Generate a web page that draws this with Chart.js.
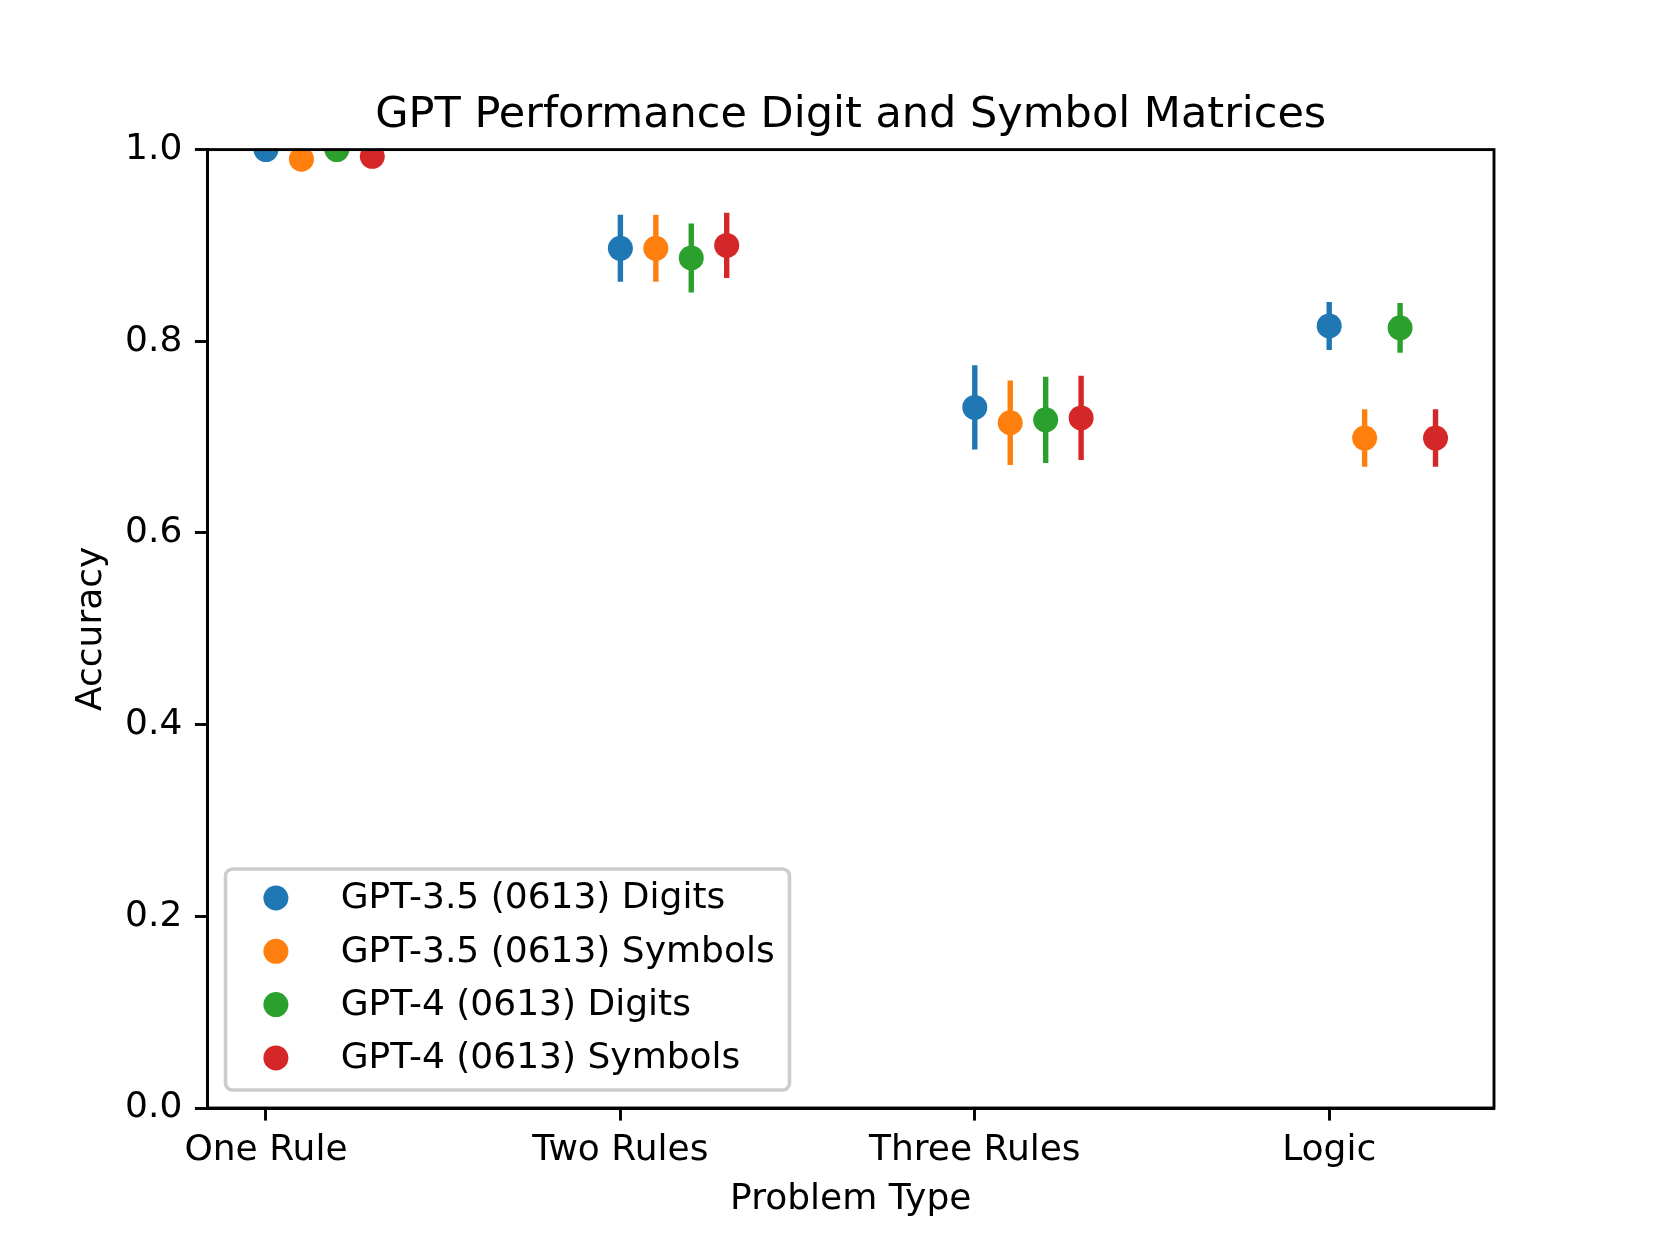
<!DOCTYPE html>
<html>
<head>
<meta charset="utf-8">
<script src="https://cdn.jsdelivr.net/npm/chart.js@4"></script>
<style>
  body { margin: 0; background: #fff; }
</style>
</head>
<body>
<canvas id="grafico" width="1660" height="1245"></canvas>
<script>
// datos
var categorias = ['One Rule', 'Two Rules', 'Three Rules', 'Logic'];
var series = ['GPT-3.5 (0613) Digits', 'GPT-3.5 (0613) Symbols', 'GPT-4 (0613) Digits', 'GPT-4 (0613) Symbols'];

var gpt35Digitos = [1.000, 0.897, 0.731, 0.816];
var gpt35DigitosErr = [0.000, 0.035, 0.044, 0.025];
var gpt35Simbolos = [0.990, 0.897, 0.715, 0.699];
var gpt35SimbolosErr = [0.006, 0.035, 0.044, 0.030];
var gpt4Digitos = [1.000, 0.887, 0.718, 0.814];
var gpt4DigitosErr = [0.000, 0.036, 0.045, 0.026];
var gpt4Simbolos = [0.993, 0.900, 0.720, 0.699];
var gpt4SimbolosErr = [0.005, 0.034, 0.044, 0.030];

var colores = ['#1f77b4', '#ff7f0e', '#2ca02c', '#d62728'];
var desplazamientos = [0, 0.1, 0.2, 0.3];
var valores = [gpt35Digitos, gpt35Simbolos, gpt4Digitos, gpt4Simbolos];
var errores = [gpt35DigitosErr, gpt35SimbolosErr, gpt4DigitosErr, gpt4SimbolosErr];

var fuente = 'DejaVu Sans';

var datasets = series.map(function (nombre, s) {
    return {
        label: nombre,
        data: valores[s].map(function (v, i) {
            return { x: i + desplazamientos[s], y: v, err: errores[s][i] };
        }),
        backgroundColor: colores[s],
        borderColor: colores[s],
        pointRadius: 12.5,
        pointHoverRadius: 12.5,
        pointBorderWidth: 0,
        showLine: false,
        clip: 0
    };
});

// barras de error (debajo de los puntos)
var barrasError = {
    id: 'barrasError',
    beforeDatasetsDraw: function (chart) {
        var ctx = chart.ctx, a = chart.chartArea;
        var xs = chart.scales.x, ys = chart.scales.y;
        ctx.save();
        ctx.beginPath();
        ctx.rect(a.left, a.top, a.right - a.left, a.bottom - a.top);
        ctx.clip();
        ctx.lineWidth = 5.4;
        ctx.lineCap = 'butt';
        chart.data.datasets.forEach(function (ds) {
            ctx.strokeStyle = ds.borderColor;
            ds.data.forEach(function (p) {
                if (!p.err) return;
                var x = xs.getPixelForValue(p.x);
                ctx.beginPath();
                ctx.moveTo(x, ys.getPixelForValue(p.y - p.err));
                ctx.lineTo(x, ys.getPixelForValue(p.y + p.err));
                ctx.stroke();
            });
        });
        ctx.restore();
    }
};

// marco completo y leyenda abajo a la izquierda
var marcoYLeyenda = {
    id: 'marcoYLeyenda',
    afterDatasetsDraw: function (chart) {
        var ctx = chart.ctx, a = chart.chartArea;
        ctx.save();
        ctx.strokeStyle = '#000';
        ctx.lineWidth = 2.9;
        ctx.strokeRect(a.left, a.top, a.right - a.left, a.bottom - a.top);

        // leyenda
        var izq = a.left + 18, abajo = a.bottom - 18;
        var ancho = 564, alto = 221, arriba = abajo - alto;
        var r = 7;
        ctx.beginPath();
        ctx.moveTo(izq + r, arriba);
        ctx.arcTo(izq + ancho, arriba, izq + ancho, abajo, r);
        ctx.arcTo(izq + ancho, abajo, izq, abajo, r);
        ctx.arcTo(izq, abajo, izq, arriba, r);
        ctx.arcTo(izq, arriba, izq + ancho, arriba, r);
        ctx.closePath();
        ctx.fillStyle = 'rgba(255,255,255,0.8)';
        ctx.fill();
        ctx.strokeStyle = '#cccccc';
        ctx.lineWidth = 3.6;
        ctx.stroke();

        ctx.font = '36px "' + fuente + '"';
        ctx.textBaseline = 'middle';
        ctx.textAlign = 'left';
        chart.data.datasets.forEach(function (ds, i) {
            var y = arriba + 29 + i * 53.3;
            ctx.fillStyle = ds.backgroundColor;
            ctx.beginPath();
            ctx.arc(izq + 50.4, y, 12.5, 0, Math.PI * 2);
            ctx.fill();
            ctx.fillStyle = '#000';
            ctx.fillText(ds.label, izq + 115.2, y + 1);
        });
        ctx.restore();
    }
};

var ctx = document.getElementById('grafico').getContext('2d');
var grafico = new Chart(ctx, {
    type: 'scatter',
    data: { datasets: datasets },
    options: {
        responsive: false,
        animation: false,
        devicePixelRatio: 1,
        layout: { padding: { left: 0, right: 166, top: 0, bottom: 0 } },
        plugins: {
            legend: { display: false },
            tooltip: { enabled: false },
            title: {
                display: true,
                fullSize: false,
                text: 'GPT Performance Digit and Symbol Matrices',
                color: '#000',
                font: { family: fuente, size: 43, weight: 'normal', lineHeight: 1.2 },
                padding: { top: 90, bottom: 8 }
            }
        },
        scales: {
            x: {
                type: 'linear',
                min: -0.165,
                max: 3.465,
                afterBuildTicks: function (escala) {
                    escala.ticks = categorias.map(function (c, i) { return { value: i }; });
                },
                afterFit: function (escala) { escala.height = 137; },
                ticks: {
                    color: '#000',
                    padding: 8,
                    maxRotation: 0,
                    autoSkip: false,
                    font: { family: fuente, size: 36 },
                    callback: function (v) { return categorias[v]; }
                },
                grid: { drawOnChartArea: false, tickLength: 12.6, tickWidth: 2.9, tickColor: '#000' },
                border: { color: '#000', width: 2.9 },
                title: {
                    display: true,
                    text: 'Problem Type',
                    color: '#000',
                    font: { family: fuente, size: 36, lineHeight: 1.2 },
                    padding: { top: 0, bottom: 24 }
                }
            },
            y: {
                min: 0,
                max: 1,
                afterFit: function (escala) { escala.width = 207.5; },
                ticks: {
                    stepSize: 0.2,
                    color: '#000',
                    padding: 12.6,
                    font: { family: fuente, size: 36 },
                    callback: function (v) { return v.toFixed(1); }
                },
                grid: { drawOnChartArea: false, tickLength: 12.6, tickWidth: 2.9, tickColor: '#000' },
                border: { color: '#000', width: 2.9 },
                title: {
                    display: true,
                    text: 'Accuracy',
                    color: '#000',
                    font: { family: fuente, size: 36, lineHeight: 1.2 },
                    padding: { top: 70, bottom: 0 }
                }
            }
        }
    },
    plugins: [barrasError, marcoYLeyenda]
});
</script>
</body>
</html>
